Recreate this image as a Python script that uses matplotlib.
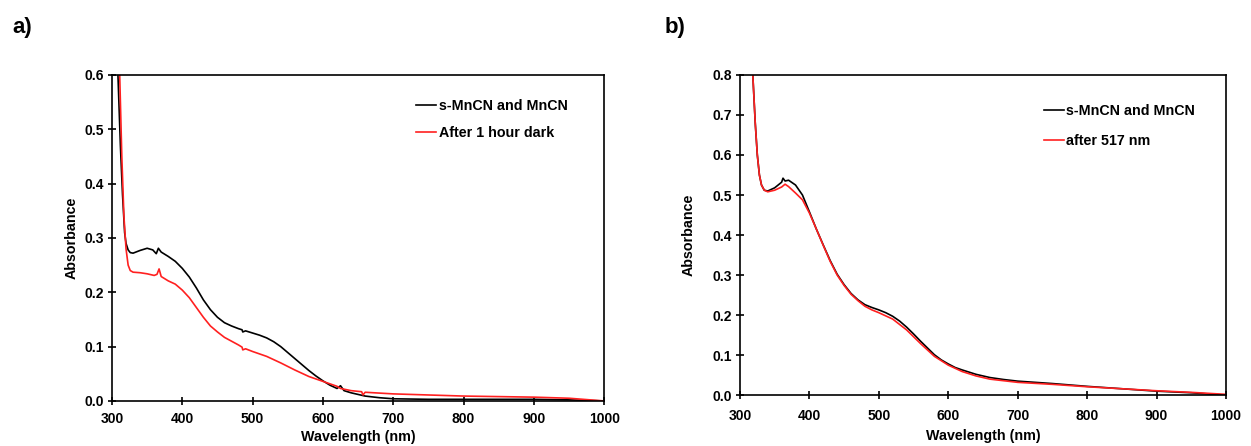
import numpy as np
import matplotlib
matplotlib.use("Agg")
from matplotlib import pyplot as plt

plt.rcParams['font.family'] = ['Liberation Sans', 'DejaVu Sans']
plt.rcParams['font.weight'] = 'bold'

# a) spectra
wl_a_black = [308.5, 312, 315, 318, 320, 323, 326, 330, 340, 350, 358, 363, 366, 370, 380, 390, 400,
              410, 420, 430, 440, 450, 460, 470, 480, 485, 486, 490, 500, 510, 520, 530, 540, 550,
              560, 570, 580, 590, 600, 610, 620, 625, 630, 640, 650, 660, 680, 700, 750, 800, 900,
              950, 1000]
abs_a_black = [0.6, 0.47, 0.38, 0.31, 0.29, 0.278, 0.273, 0.272, 0.277, 0.281, 0.278, 0.271, 0.281,
               0.274, 0.266, 0.257, 0.244, 0.228, 0.208, 0.186, 0.168, 0.154, 0.144, 0.138, 0.133,
               0.131, 0.127, 0.129, 0.125, 0.121, 0.116, 0.109, 0.1, 0.089, 0.078, 0.067, 0.056,
               0.046, 0.037, 0.029, 0.023, 0.028, 0.019, 0.015, 0.012, 0.009, 0.006, 0.004, 0.003,
               0.003, 0.003, 0.002, 0.0]
wl_a_red = [311, 314, 317, 320, 323, 326, 330, 340, 350, 360, 364, 367, 370, 375, 380, 390, 400,
            410, 420, 430, 440, 450, 460, 470, 480, 485, 486, 490, 500, 520, 540, 560, 580, 600,
            620, 625, 640, 655, 657, 660, 700, 800, 900, 950, 1000]
abs_a_red = [0.6, 0.45, 0.34, 0.28, 0.25, 0.24, 0.237, 0.236, 0.234, 0.231, 0.233, 0.243, 0.229,
             0.225, 0.221, 0.215, 0.204, 0.19, 0.172, 0.154, 0.138, 0.127, 0.117, 0.11, 0.103,
             0.099, 0.094, 0.096, 0.091, 0.082, 0.07, 0.057, 0.045, 0.036, 0.027, 0.023, 0.019,
             0.017, 0.011, 0.016, 0.013, 0.009, 0.007, 0.005, 0.0]

# b) spectra
wl_b_black = [318.5, 322, 325, 328, 331, 335, 340, 350, 355, 360, 362, 365, 370, 380, 390, 400,
              410, 420, 430, 440, 450, 460, 470, 480, 490, 500, 510, 520, 530, 540, 550, 560, 570,
              580, 590, 600, 610, 620, 640, 660, 680, 700, 750, 800, 850, 900, 950, 1000]
abs_b_black = [0.8, 0.68, 0.6, 0.55, 0.525, 0.512, 0.51, 0.518, 0.525, 0.532, 0.542, 0.535, 0.537,
               0.525, 0.5, 0.458, 0.415, 0.375, 0.336, 0.302, 0.276, 0.254, 0.238, 0.226, 0.219,
               0.213, 0.206, 0.197, 0.185, 0.17, 0.153, 0.135, 0.118, 0.101, 0.088, 0.078, 0.069,
               0.063, 0.052, 0.044, 0.039, 0.035, 0.029, 0.022, 0.016, 0.01, 0.006, 0.0]
wl_b_red = [318.5, 322, 325, 328, 331, 335, 340, 350, 360, 365, 370, 380, 390, 400, 410, 420, 430,
            440, 450, 460, 470, 480, 490, 500, 520, 540, 560, 580, 600, 620, 640, 660, 700, 750,
            800, 900, 950, 1000]
abs_b_red = [0.8, 0.68, 0.6, 0.55, 0.525, 0.512, 0.508, 0.512, 0.52, 0.527, 0.521, 0.505, 0.488,
             0.455, 0.415, 0.374, 0.334, 0.3, 0.274, 0.252, 0.236, 0.222, 0.213, 0.206, 0.19,
             0.163, 0.129, 0.097, 0.075, 0.059, 0.048, 0.04, 0.032, 0.027, 0.021, 0.011, 0.007,
             0.002]

fig = plt.figure(figsize=(12.51, 4.46), dpi=100)
ax1 = fig.add_axes([0.0895, 0.101, 0.3935, 0.731])
ax2 = fig.add_axes([0.5915, 0.114, 0.3885, 0.718])

# axes, data, red label, ymax, legend anchor, legend spacing, tick pad, xlabel pad, ylabel pad
panels = [
    (ax1, wl_a_black, abs_a_black, wl_a_red, abs_a_red, "After 1 hour dark", 0.6,
     (0.604, 0.947), 0.85, 5, 3, 4),
    (ax2, wl_b_black, abs_b_black, wl_b_red, abs_b_red, "after 517 nm", 0.8,
     (0.611, 0.930), 1.05, 7, 4, 12),
]
for ax, xb, yb, xr, yr, lab, ymax, anchor, spacing, tpad, xpad, ypad in panels:
    ax.plot(xb, yb, color="black", lw=1.2, label="s-MnCN and MnCN")
    ax.plot(xr, yr, color="#ff2020", lw=1.2, label=lab)
    ax.set_xlim(300, 1000)
    ax.set_ylim(0, ymax)
    ax.set_xticks(np.arange(300, 1001, 100))
    ax.set_yticks(np.arange(0, ymax + 0.01, 0.1))
    ax.set_yticklabels(["%.1f" % v for v in np.arange(0, ymax + 0.01, 0.1)])
    ax.tick_params(direction="inout", length=6, width=1.2, labelsize=10)
    ax.tick_params(axis="x", pad=tpad)
    ax.tick_params(axis="y", pad=3)
    for s in ax.spines.values():
        s.set_linewidth(1.2)
    ax.set_xlabel("Wavelength (nm)", fontsize=10.3, fontweight="bold", labelpad=xpad)
    ax.set_ylabel("Absorbance", fontsize=10.3, fontweight="bold", labelpad=ypad)
    ax.legend(loc="upper left", bbox_to_anchor=anchor, frameon=False, fontsize=10.3,
              handlelength=1.4, handletextpad=0.15, labelspacing=spacing, borderpad=0)

fig.text(0.0096, 0.926, "a)", fontsize=16, fontweight="bold")
fig.text(0.531, 0.926, "b)", fontsize=16, fontweight="bold")

fig.savefig("out.png", dpi=100)
